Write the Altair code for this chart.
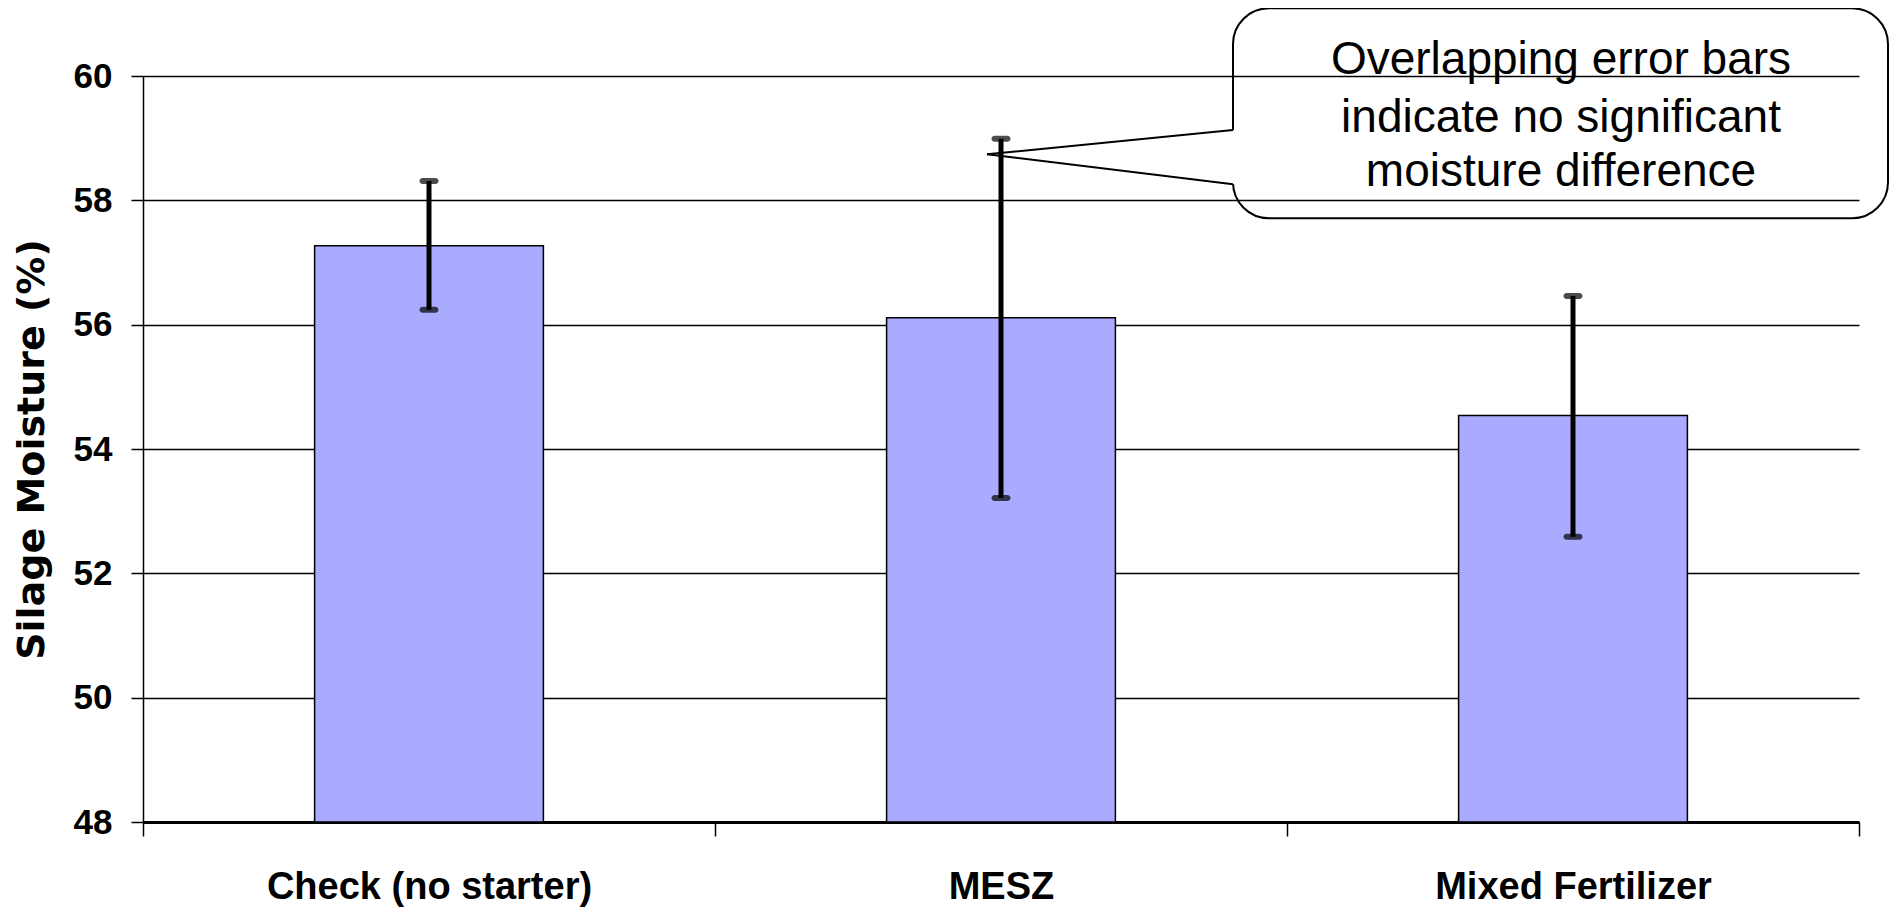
import altair as alt
import pandas as pd

categories = ["Check (no starter)", "MESZ", "Mixed Fertilizer"]
means = [57.27, 56.11, 54.54]
lower = [56.24, 53.21, 52.59]
upper = [58.31, 58.99, 56.46]

y_ticks = [48, 50, 52, 54, 56, 58, 60]

note_lines = ["Overlapping error bars", "indicate no significant", "moisture difference"]
note_y = [60.25, 59.33, 58.45]

# callout: vertical extent in data units, horizontal extent in plot pixels
box_y = (57.71, 61.09)
box_px = (1090, 1745)
text_px = 1418
tip_px = 844
tip_y = 58.74
attach_y = [59.13, 58.26]

W, H = 1716, 746
df = pd.DataFrame({"cat": categories, "mean": means, "lo": lower, "hi": upper})

FONT = "Liberation Sans, Arial, sans-serif"

xscale = alt.Scale(domain=categories, paddingInner=0, paddingOuter=0)
yscale = alt.Scale(domain=[48, 60], nice=False, zero=False)

bars = alt.Chart(df).mark_bar(
    color="#AAAAFF", stroke="black", strokeWidth=1.5, width=alt.RelativeBandSize(0.4)
).encode(
    x=alt.X("cat:N", sort=categories, scale=xscale, title=None),
    y=alt.Y(
        "mean:Q",
        scale=yscale,
        title="Silage Moisture (%)",
        axis=alt.Axis(values=y_ticks, format="d"),
    ),
    y2=alt.datum(48),
)

err_x = alt.X("cat:N", sort=categories, scale=xscale)

err_rule = alt.Chart(df).mark_rule(color="black", strokeWidth=5).encode(
    x=err_x,
    y=alt.Y("lo:Q", scale=yscale),
    y2="hi:Q",
)
cap_hi = alt.Chart(df).mark_tick(color="black", thickness=6, size=19, cornerRadius=3).encode(
    x=err_x, y=alt.Y("hi:Q", scale=yscale)
)
cap_lo = alt.Chart(df).mark_tick(color="black", thickness=6, size=19, cornerRadius=3).encode(
    x=err_x, y=alt.Y("lo:Q", scale=yscale)
)

box_df = pd.DataFrame({"y1": [box_y[0]], "y2": [box_y[1]]})
box_mark = alt.Chart(box_df).mark_rect(
    filled=False, color="black", strokeWidth=2, cornerRadius=36
).encode(
    x=alt.value(box_px[0]),
    x2=alt.value(box_px[1]),
    y=alt.Y("y1:Q", scale=yscale),
    y2="y2:Q",
)

gap_df = pd.DataFrame({"y1": [attach_y[1]], "y2": [attach_y[0]]})
gap_mark = alt.Chart(gap_df).mark_rect(color="white").encode(
    x=alt.value(box_px[0] - 3),
    x2=alt.value(box_px[0] + 3),
    y=alt.Y("y1:Q", scale=yscale),
    y2="y2:Q",
)

ptr_df = pd.DataFrame({"y1": [tip_y, tip_y], "y2": attach_y})
ptr_mark = alt.Chart(ptr_df).mark_rule(color="black", strokeWidth=2).encode(
    x=alt.value(tip_px),
    x2=alt.value(box_px[0]),
    y=alt.Y("y1:Q", scale=yscale),
    y2="y2:Q",
)

text_df = pd.DataFrame({"t": note_lines, "y": note_y})
text_mark = alt.Chart(text_df).mark_text(
    font=FONT, fontSize=46, color="black", align="center", baseline="middle"
).encode(
    x=alt.value(text_px),
    y=alt.Y("y:Q", scale=yscale),
    text="t:N",
)

chart = (
    alt.layer(bars, err_rule, cap_lo, cap_hi, box_mark, gap_mark, ptr_mark, text_mark)
    .properties(
        width=W,
        height=H,
        autosize=alt.AutoSizeParams(type="none"),
        padding={"left": 135, "top": 68, "right": 32, "bottom": 90},
        background="white",
    )
    .configure_view(strokeWidth=0)
    .configure_axisX(
        labelAngle=0,
        labelFont=FONT,
        labelFontSize=38,
        labelFontWeight="bold",
        labelColor="black",
        labelPadding=32,
        labelLimit=1000,
        tickBand="extent",
        tickSize=14,
        tickWidth=1.5,
        tickColor="black",
        domainColor="black",
        domainWidth=3,
        grid=False,
    )
    .configure_axisY(
        titleFont="DejaVu Sans",
        titleFontSize=38,
        titleFontWeight="bold",
        titleColor="black",
        titleAngle=-90,
        titleAlign="center",
        titleBaseline="middle",
        titleX=-111,
        titleY=373,
        labelFont=FONT,
        labelFontSize=35,
        labelFontWeight="bold",
        labelColor="black",
        labelPadding=19,
        tickSize=12,
        tickWidth=1.5,
        tickColor="black",
        domainColor="black",
        domainWidth=1.5,
        grid=True,
        gridColor="black",
        gridWidth=1.5,
    )
)

chart.save("out.html", embed_options={"renderer": "svg", "actions": False})
